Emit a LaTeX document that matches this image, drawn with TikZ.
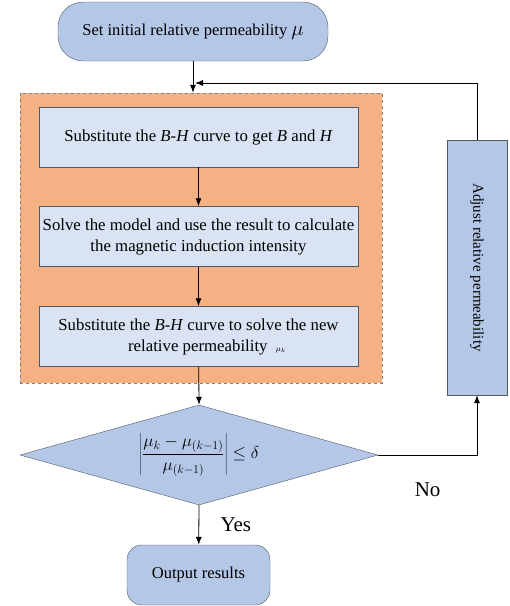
\documentclass[tikz,border=0pt]{standalone}
\usepackage{fontspec}
\setmainfont{Liberation Serif}
\usepackage{graphicx}
\usetikzlibrary{shapes.geometric,arrows.meta}

\definecolor{boxblue}{HTML}{B4C7E7}
\definecolor{paleblue}{HTML}{DAE3F3}
\definecolor{loopfill}{HTML}{F4B183}
\definecolor{edgegray}{HTML}{505A66}

\begin{document}
\begin{tikzpicture}[x=1pt,y=-1pt,>={Latex[length=8pt,width=6pt]},
	startend/.style={rectangle, draw=edgegray, fill=boxblue, inner sep=0pt, align=center, font=\fontsize{16.5}{19}\selectfont},
	stepbox/.style={rectangle, draw=edgegray, fill=paleblue, inner sep=0pt, align=center, minimum width=319pt, minimum height=60pt, font=\fontsize{16.8}{21}\selectfont},
	flow/.style={->, thick, black},
	answer/.style={font=\fontsize{21}{24}\selectfont}]
	\useasboundingbox (0,0) rectangle (510,606);

	\node 	(loop)	at	(201,238)	[rectangle, draw=gray, dashed, fill=loopfill, minimum width=362pt, minimum height=290pt]{};

	\node 	(start)	at	(193,31.5)	[startend, rounded corners=25pt, minimum width=270pt, minimum height=59pt]{Set initial relative permeability {\fontsize{22}{22}\selectfont$\mu$}};

	\node 	(bh)	at	(198.5,137)	[stepbox]{Substitute the \textit{B-H} curve to get \textit{B} and \textit{H}};
	\node 	(solve)	at	(198.5,236.5)	[stepbox]{Solve the model and use the result to calculate\\the magnetic induction intensity};
	\node 	(newmu)	at	(198.5,336.5)	[stepbox]{Substitute the \textit{B-H} curve to solve the new\\\quad relative permeability~~{\footnotesize$\mu_{k}$}};

	\node 	(check)	at	(199,455)	[diamond, shape aspect=3.58, draw=edgegray, fill=boxblue, inner sep=0pt, minimum width=358pt, minimum height=100pt, font=\fontsize{18.5}{22}\selectfont]{$\left|\displaystyle\frac{\mu_{k}-\mu_{(k-1)}}{\mu_{(k-1)}}\right|\le\delta$};

	\node 	(adjust)	at	(477,267.5)	[startend, minimum width=60pt, minimum height=255pt, font=\fontsize{15}{18}\selectfont]{\rotatebox{-90}{Adjust relative permeability}};

	\node 	(output)	at	(198.5,575)	[startend, rounded corners=15pt, minimum width=143pt, minimum height=60pt]{Output results};

	\coordinate (back) at (195,83);

	\draw[flow] (start) -- (start |- loop.north);
	\draw[flow] (bh) -- (solve);
	\draw[flow] (solve) -- (newmu);
	\draw[flow] (newmu) -- (check.north);
	\draw[flow] (check.south) -- node[right=18pt, answer]{Yes} (output);
	\draw[flow] (check.east) -| node[pos=0.25, below=24pt, answer]{No} (adjust.south);
	\draw[flow] (adjust.north) |- (back);

\end{tikzpicture}
\end{document}
